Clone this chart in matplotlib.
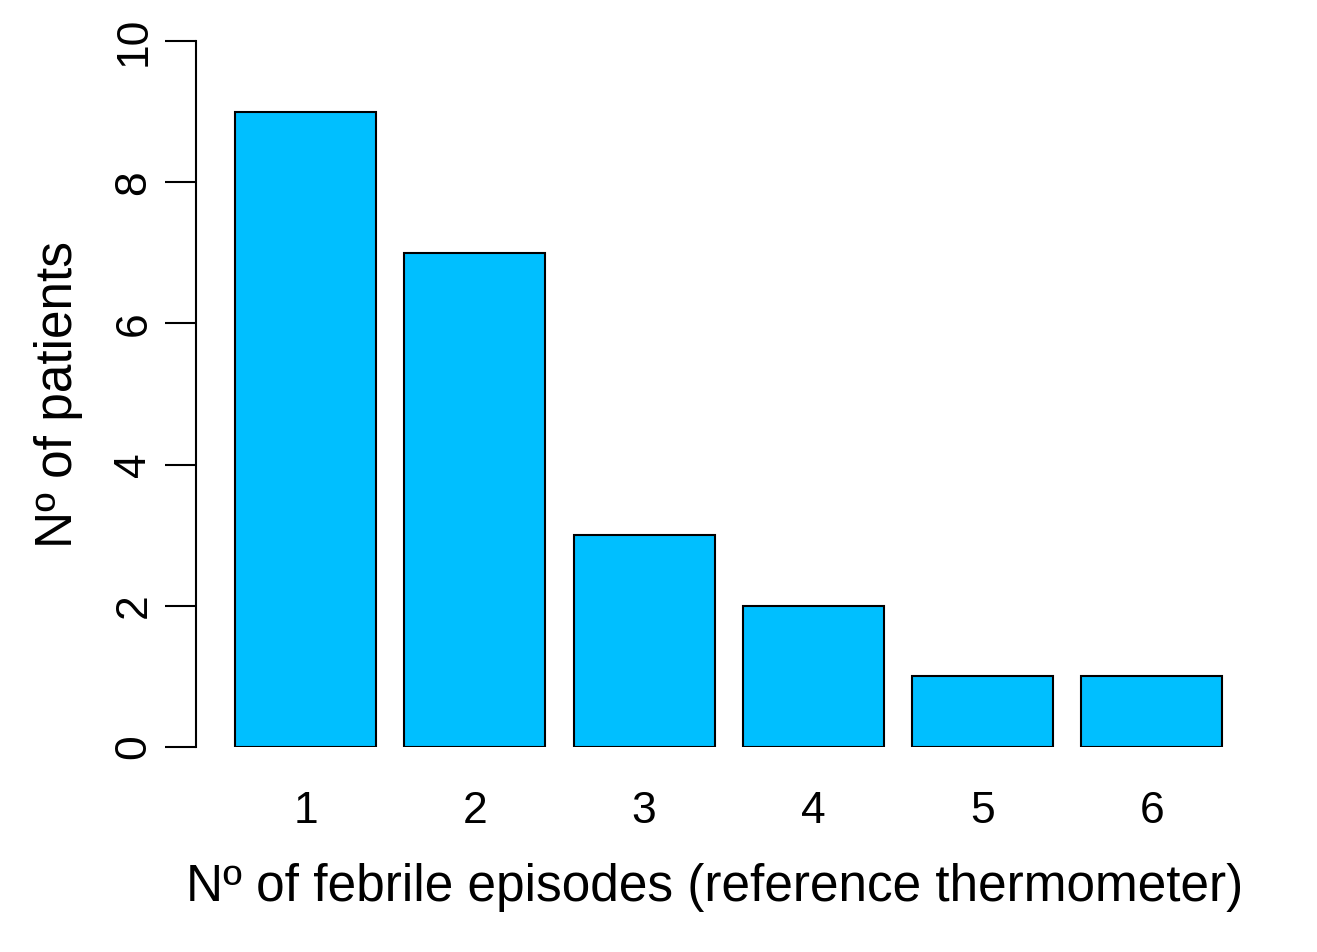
import matplotlib
matplotlib.use('Agg')
from matplotlib import pyplot as plt

episodes = ['1', '2', '3', '4', '5', '6']
patients = [9, 7, 3, 2, 1, 1]
yticks = [0, 2, 4, 6, 8, 10]

plt.rcParams['font.family'] = ['Liberation Sans', 'DejaVu Sans']

W, H = 1317, 952
fig = plt.figure(figsize=(W / 100, H / 100), dpi=100)
# axes box in pixel coords: x 196..1233, y 41..747
ax = fig.add_axes([196 / W, 1 - 747 / H, (1233 - 196) / W, (747 - 41) / H])

# R barplot style: width 1, space 0.2
centers = [0.7 + 1.2 * i for i in range(len(patients))]
ax.bar(centers, patients, width=1.0, color='#00BFFF', edgecolor='black', linewidth=1.5)

ax.set_xlim((196 - 207) / 141, (1233 - 207) / 141)
ax.set_ylim(0, 10)
for s in ['top', 'right', 'bottom']:
    ax.spines[s].set_visible(False)
ax.spines['left'].set_linewidth(1.5)
ax.spines['left'].set_bounds(0, 10)

ax.set_yticks(yticks)
ax.set_yticklabels([str(v) for v in yticks], rotation=90, va='center', fontsize=32)
ax.tick_params(axis='y', length=22, width=1.5, pad=8)
ax.set_xticks(centers)
ax.set_xticklabels(episodes, fontsize=32)
ax.tick_params(axis='x', length=0, pad=32)

ax.set_xlabel('Nº of febrile episodes (reference thermometer)', fontsize=37, labelpad=22)
ax.set_ylabel('Nº of patients', fontsize=37, labelpad=22)

fig.savefig('out.png', dpi=100)
